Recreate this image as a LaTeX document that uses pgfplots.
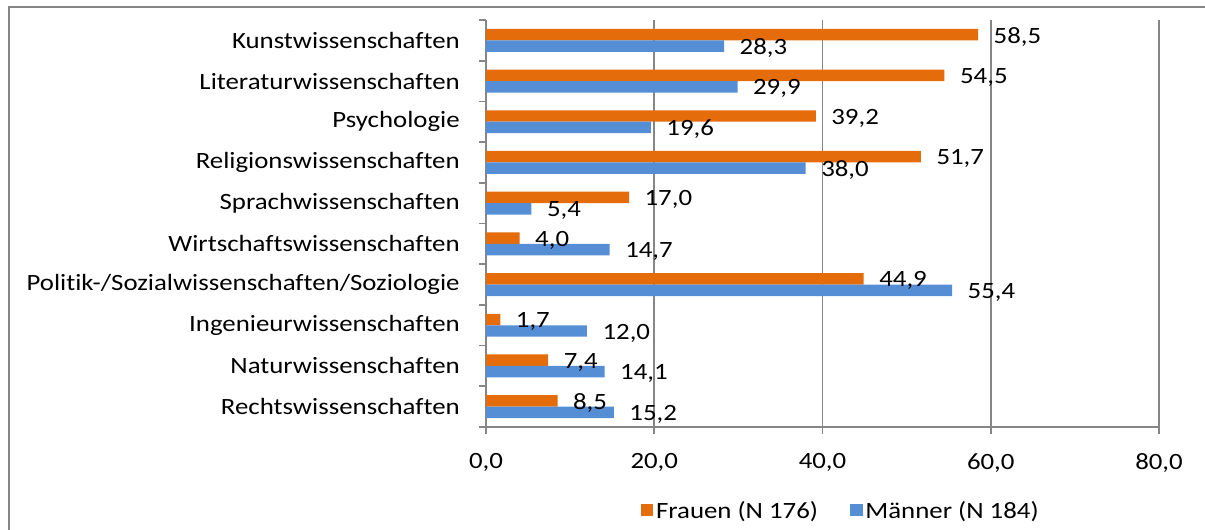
\documentclass[border=0pt]{standalone}
\usepackage{fontspec}
\setmainfont{Carlito}[FakeStretch=1.15, RawFeature={-liga;-clig;-calt;-dlig}]
\usepackage{pgfplots}
\pgfplotsset{compat=1.18}
\definecolor{fr}{RGB}{228,108,10}
\definecolor{ma}{RGB}{85,142,213}
\definecolor{gridc}{RGB}{134,134,134}
\newcommand\cf{\fontsize{17.5pt}{21pt}\selectfont}
\begin{document}
\begin{tikzpicture}
\begin{axis}[
  name=ax,
  width=504.75pt, height=305.25pt, scale only axis,
  xbar, xmin=0, xmax=80, ymin=-0.5, ymax=9.5,
  bar width=8.6pt,
  axis x line*=bottom, axis y line*=left,
  axis line style={gridc, line width=1.3pt},
  xtick={0,20,...,80},
  xmajorgrids, grid style={gridc, line width=1.3pt},
  tick align=outside,
  tick style={gridc, line width=1.3pt},
  major tick length=5.5pt,
  /pgf/number format/.cd, fixed, fixed zerofill, precision=1, use comma, assume math mode=true,
  /pgfplots/.cd,
  ticklabel style={font=\cf, text=black},
  xticklabel style={inner sep=0pt, yshift=-14pt},
  ytick={-0.5,0.5,...,9.5}, yticklabels={},
  extra y ticks={0,1,2,3,4,5,6,7,8,9},
  extra y tick labels={Rechtswissenschaften, Naturwissenschaften, Ingenieurwissenschaften, Politik-/Sozialwissenschaften/Soziologie, Wirtschaftswissenschaften, Sprachwissenschaften, Religionswissenschaften, Psychologie, Literaturwissenschaften, Kunstwissenschaften},
  extra y tick style={major tick length=0pt, yticklabel style={inner sep=0pt, xshift=-19.5pt}},
  nodes near coords,
  every node near coord/.append style={font=\cf, text=black, inner sep=0pt, xshift=11.5pt, yshift=-1.5pt},
  legend columns=2,
  legend style={draw=none, font=\cf, at={(axis description cs:0.5275,-0.206)}, anchor=center,
    /tikz/every even column/.append style={column sep=22pt}},
  legend image code/.code={\fill[#1] (0pt,-4pt) rectangle (9.5pt,5.5pt);},
]
\addplot[fill=fr, draw=none, bar shift=4.3pt] coordinates {
(8.5,0) (7.4,1) (1.7,2) (44.9,3) (4.0,4) (17.0,5) (51.7,6) (39.2,7) (54.5,8) (58.5,9)};
\addlegendentry{Frauen (N 176)}
\addplot[fill=ma, draw=none, bar shift=-4.3pt] coordinates {
(15.2,0) (14.1,1) (12.0,2) (55.4,3) (14.7,4) (5.4,5) (38.0,6) (19.6,7) (29.9,8) (28.3,9)};
\addlegendentry{Männer (N 184)}
\end{axis}
\draw[gridc, line width=1.3pt] ([shift={(-357.75pt,-90pt)}]ax.south west) -- ([shift={(-357.75pt,315pt)}]ax.south west) -- ([shift={(560pt,315pt)}]ax.south west);
\pgfresetboundingbox
\path[use as bounding box] ([shift={(-364.5pt,-76.5pt)}]ax.south west) rectangle ([shift={(539.25pt,320.25pt)}]ax.south west);
\end{tikzpicture}
\end{document}
